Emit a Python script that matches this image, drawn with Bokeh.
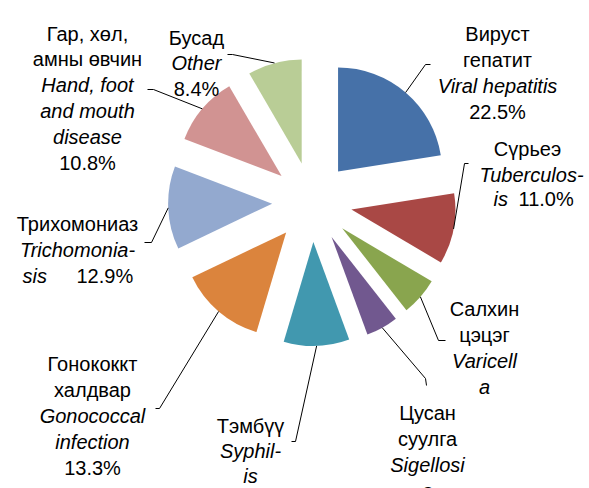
import numpy as np
from bokeh.plotting import figure
from bokeh.models import Range1d, ColumnDataSource
from bokeh.core.properties import value
from bokeh.embed import file_html
from bokeh.resources import INLINE

# ---------------- data ----------------
names_mn = ["Вируст гепатит", "Сүрьеэ", "Салхин цэцэг", "Цусан суулга", "Тэмбүү",
            "Гонококкт халдвар", "Трихомониаз", "Гар, хөл, амны өвчин", "Бусад"]
names_en = ["Viral hepatitis", "Tuberculosis", "Varicella", "Sigellosis", "Syphilis",
            "Gonococcal infection", "Trichomoniasis", "Hand, foot and mouth disease", "Other"]
shares = [22.5, 11.0, 5.9, 5.0, 10.2, 13.3, 12.9, 10.8, 8.4]
colors = ["#4671A8", "#A94845", "#89A54E", "#71588F", "#4198AF",
          "#DB843D", "#93A9CF", "#D19392", "#B9CD96"]

# ---------------- layout ----------------
W, H = 589, 488
IMG_H = 488
FONT = "Liberation Sans"
FS = "20px"

def Y(img_y):
    return IMG_H - img_y

CX, CY = 311.6, Y(201.5)
R = 104.0
D = 40.0

p = figure(width=W, height=H, x_range=Range1d(0, W), y_range=Range1d(IMG_H - H, IMG_H),
           output_backend="svg", toolbar_location=None, min_border=0)
p.axis.visible = False
p.grid.visible = False
p.outline_line_color = None
p.background_fill_color = "white"
p.border_fill_color = "white"

vals = np.array(shares, dtype=float)
cum = np.concatenate([[0.0], np.cumsum(vals)]) / vals.sum() * 360.0
ts, te = cum[:-1], cum[1:]
bis = np.radians((ts + te) / 2)
ax = CX + D * np.sin(bis)
ay = CY + D * np.cos(bis)

src = ColumnDataSource(dict(
    x=ax, y=ay,
    start=np.radians(90 - te), end=np.radians(90 - ts),
    color=colors,
))
p.wedge(x="x", y="y", radius=R, start_angle="start", end_angle="end",
        fill_color="color", line_color=None, source=src)

# leader lines: anchor on arc at bisector, then layout elbows (image coords)
anchor_x = ax + R * np.sin(bis)
anchor_y = ay + R * np.cos(bis)
elbows = [
    [(425, 64), (430, 64)],
    [(464, 163), (468, 163)],
    [(438, 340), (445, 340)],
    [(425, 378), (426, 385)],
    [(295, 441), (291, 441)],
    [(159, 408), (155, 408)],
    [(151, 242), (144, 242)],
    [(153, 89), (147, 89)],
    [(232, 54), (227, 54)],
]
xs, ys = [], []
for i, el in enumerate(elbows):
    xs.append([anchor_x[i]] + [e[0] for e in el])
    ys.append([anchor_y[i]] + [Y(e[1]) for e in el])
p.multi_line(xs=xs, ys=ys, line_color="black", line_width=1)

pct = [f"{v:.1f}%" for v in shares]

# label segments: (text, italic, x, baseline_img_y, align)
segs = []
def block(cx, baselines, lines):
    for (t, it), b in zip(lines, baselines):
        segs.append((t, it, cx, b, "center"))

block(497, [33, 59, 85, 111], [("Вируст", False), ("гепатит", False), ("Viral hepatitis", True), (pct[0], False)])
segs.append(("Сүрьеэ", False, 527, 148, "center"))
segs.append(("Tuberculos-", True, 531, 174, "center"))
segs.append(("is", True, 493, 198, "left"))
segs.append((pct[1], False, 518, 198, "left"))
block(484, [308, 334, 360, 386], [("Салхин", False), ("цэцэг", False), ("Varicell", True), ("a", True)])
block(427, [412, 438, 464, 490], [("Цусан", False), ("суулга", False), ("Sigellosi", True), ("s", True)])
block(250, [425, 450, 475], [("Тэмбүү", False), ("Syphil-", True), ("is", True)])
block(92, [363, 389, 415, 441, 467], [("Гонококкт", False), ("халдвар", False), ("Gonococcal", True),
                                      ("infection", True), (pct[5], False)])
segs.append(("Трихомониаз", False, 77, 223, "center"))
segs.append(("Trichomonia-", True, 77, 249, "center"))
segs.append(("sis", True, 22, 275, "left"))
segs.append((pct[6], False, 76, 275, "left"))
block(87, [33, 58, 84, 110, 136, 162], [("Гар, хөл,", False), ("амны өвчин", False), ("Hand, foot", True),
                                         ("and mouth", True), ("disease", True), (pct[7], False)])
block(196, [37, 62, 88], [("Бусад", False), ("Other", True), (pct[8], False)])

for it in (False, True):
    for al in ("center", "left"):
        sub = [s for s in segs if s[1] == it and s[4] == al]
        if not sub:
            continue
        p.text(x=[s[2] for s in sub], y=[Y(s[3]) for s in sub], text=[s[0] for s in sub],
               text_font=value(FONT), text_font_size=value(FS),
               text_font_style="italic" if it else "normal",
               text_align=al, text_baseline="alphabetic", text_color="black")

open("out.html", "w").write(file_html(p, INLINE))
